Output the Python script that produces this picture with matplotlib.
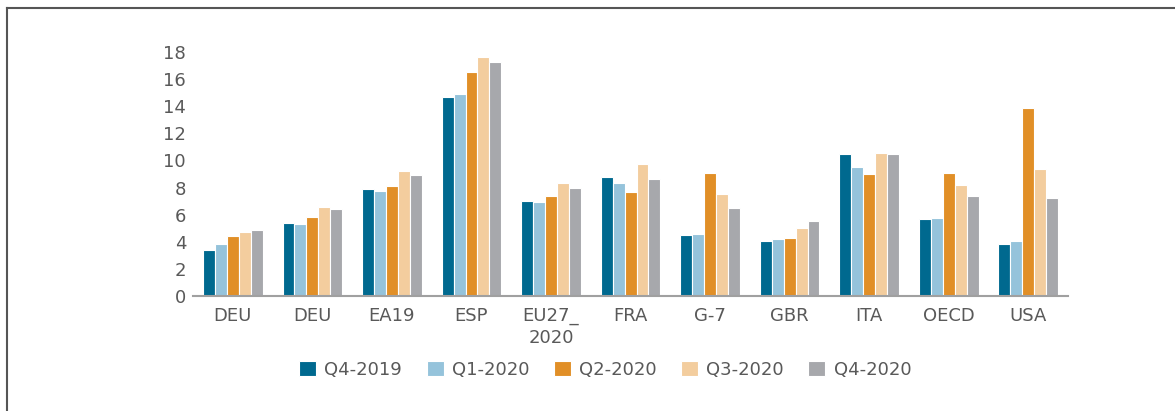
import numpy as np
import matplotlib
matplotlib.use("Agg")
import matplotlib.pyplot as plt
from matplotlib.lines import Line2D

countries = ["DEU", "DEU", "EA19", "ESP", "EU27_\n2020", "FRA", "G-7", "GBR", "ITA", "OECD", "USA"]
quarters = ["Q4-2019", "Q1-2020", "Q2-2020", "Q3-2020", "Q4-2020"]

q4_2019 = [3.4, 5.4, 7.9, 14.7, 7.0, 8.75, 4.5, 4.05, 10.45, 5.7, 3.85]
q1_2020 = [3.85, 5.3, 7.75, 14.9, 6.9, 8.3, 4.6, 4.2, 9.55, 5.75, 4.05]
q2_2020 = [4.4, 5.85, 8.1, 16.5, 7.4, 7.65, 9.1, 4.3, 9.0, 9.1, 13.9]
q3_2020 = [4.75, 6.55, 9.2, 17.6, 8.3, 9.75, 7.5, 5.05, 10.55, 8.2, 9.4]
q4_2020 = [4.85, 6.4, 8.9, 17.25, 7.95, 8.65, 6.5, 5.5, 10.45, 7.4, 7.2]

series = [q4_2019, q1_2020, q2_2020, q3_2020, q4_2020]
colors = ["#00698F", "#95C3DB", "#E18F27", "#F3CD9E", "#A7A8AC"]
text_col = "#595959"

fig = plt.figure(figsize=(11.75, 4.11), dpi=100)
ax = fig.add_axes([0.1643, 0.2798, 0.7447, 0.5937])

x = np.arange(len(countries))
w = 0.15
for i, (vals, c) in enumerate(zip(series, colors)):
    ax.bar(x + (i - 2) * w, vals, width=w, color=c, edgecolor="white",
           linewidth=0.8, label=quarters[i])

ax.set_xlim(-0.5, len(countries) - 0.5)
ax.set_ylim(0, 18)
ax.set_yticks(range(0, 19, 2))
ax.set_xticks(x)
ax.set_xticklabels(countries, linespacing=1.25)
ax.tick_params(axis="both", length=0, labelsize=13, labelcolor=text_col)
ax.tick_params(axis="y", pad=5)
ax.tick_params(axis="x", pad=8)
for s in ["left", "right", "top"]:
    ax.spines[s].set_visible(False)
ax.spines["bottom"].set_color("#A0A0A0")
ax.spines["bottom"].set_linewidth(1.5)

leg = fig.legend(loc="center", bbox_to_anchor=(0.515, 0.1), ncol=5, frameon=False,
                 fontsize=13, handlelength=0.95, handleheight=0.95,
                 handletextpad=0.45, columnspacing=1.35)
for t in leg.get_texts():
    t.set_color(text_col)

# outer frame (left and top edges visible)
fig.add_artist(Line2D([7 / 1175, 7 / 1175], [0, 1 - 8 / 411], transform=fig.transFigure,
                      color="#555555", linewidth=1.5))
fig.add_artist(Line2D([7 / 1175, 1], [1 - 8 / 411, 1 - 8 / 411], transform=fig.transFigure,
                      color="#555555", linewidth=1.5))

fig.savefig("out.png", dpi=100)
